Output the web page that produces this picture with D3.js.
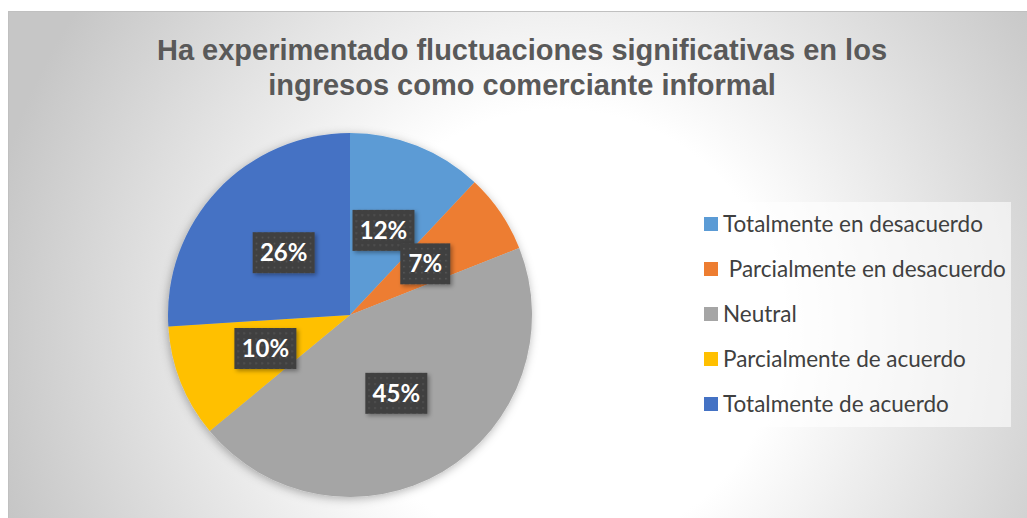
<!DOCTYPE html>
<html>
<head>
<meta charset="utf-8">
<script src="https://cdn.jsdelivr.net/npm/d3@7"></script>
<style>
  body { margin: 0; background: #fff; }
  svg { display: block; }
</style>
</head>
<body>
<div class="canvas"></div>
<script>
const categories = ['Totalmente en desacuerdo', ' Parcialmente en desacuerdo', 'Neutral', 'Parcialmente de acuerdo', 'Totalmente de acuerdo'];
const values = [12, 7, 45, 10, 26];
const colors = ['#5B9BD5', '#ED7D31', '#A5A5A5', '#FFC000', '#4472C4'];
const titleLines = ['Ha experimentado fluctuaciones significativas en los', 'ingresos como comerciante informal'];

const dims = {width: 1027, height: 518};

const svg = d3.select('.canvas')
    .append('svg')
    .attr('width', dims.width)
    .attr('height', dims.height);

const defs = svg.append('defs');

// chart area background
const bg = defs.append('radialGradient')
    .attr('id', 'bg')
    .attr('gradientUnits', 'userSpaceOnUse')
    .attr('cx', 560).attr('cy', 330).attr('r', 580);
bg.append('stop').attr('offset', '0%').attr('stop-color', '#ffffff');
bg.append('stop').attr('offset', '38%').attr('stop-color', '#ffffff');
bg.append('stop').attr('offset', '100%').attr('stop-color', '#c6c6c6');

const shadow = defs.append('filter')
    .attr('id', 'shadow')
    .attr('x', '-20%').attr('y', '-20%')
    .attr('width', '140%').attr('height', '140%');
shadow.append('feDropShadow')
    .attr('dx', -1).attr('dy', 2)
    .attr('stdDeviation', 5)
    .attr('flood-color', '#000')
    .attr('flood-opacity', 0.3);

const lblShadow = defs.append('filter')
    .attr('id', 'lblShadow')
    .attr('x', '-30%').attr('y', '-30%')
    .attr('width', '160%').attr('height', '160%');
lblShadow.append('feDropShadow')
    .attr('dx', 2).attr('dy', 2)
    .attr('stdDeviation', 2)
    .attr('flood-color', '#000')
    .attr('flood-opacity', 0.35);

const dots = defs.append('pattern')
    .attr('id', 'dots')
    .attr('patternUnits', 'userSpaceOnUse')
    .attr('width', 6).attr('height', 6);
dots.append('rect').attr('width', 6).attr('height', 6).attr('fill', '#404040');
dots.append('rect').attr('x', 2).attr('y', 2).attr('width', 1.5).attr('height', 1.5).attr('fill', '#5a5a5a');

svg.append('rect')
    .attr('x', 8.5).attr('y', 11.5)
    .attr('width', dims.width - 8).attr('height', dims.height - 11)
    .attr('fill', 'url(#bg)')
    .attr('stroke', '#c0c0c0');

// title
svg.append('g')
    .selectAll('text')
    .data(titleLines)
    .enter()
    .append('text')
    .attr('x', 522)
    .attr('y', (d, i) => 60 + i * 35)
    .attr('text-anchor', 'middle')
    .attr('font-family', 'Liberation Sans, Arial, sans-serif')
    .attr('font-weight', 'bold')
    .attr('font-size', 29)
    .attr('fill', '#595959')
    .text(d => d);

// pie
const radius = 182;
const graph = svg.append('g')
    .attr('transform', 'translate(350, 315)');

const pie = d3.pie().sort(null).value(d => d.value);
const arc = d3.arc().innerRadius(0).outerRadius(radius);

const data = categories.map((c, i) => ({name: c, value: values[i], color: colors[i]}));
const arcs = pie(data);

graph.append('g')
    .attr('filter', 'url(#shadow)')
    .selectAll('path')
    .data(arcs)
    .enter()
    .append('path')
    .attr('d', arc)
    .attr('fill', d => d.data.color);

const total = d3.sum(values);
const labels = graph.selectAll('.label')
    .data(arcs)
    .enter()
    .append('g')
    .attr('class', 'label')
    .attr('transform', d => `translate(${arc.centroid(d)})`);

labels.append('rect')
    .attr('x', d => d.data.value < 10 ? -25 : -31)
    .attr('y', -20.5)
    .attr('width', d => d.data.value < 10 ? 50 : 62)
    .attr('height', 41)
    .attr('fill', 'url(#dots)')
    .attr('filter', 'url(#lblShadow)');

labels.append('text')
    .attr('text-anchor', 'middle')
    .attr('dy', 8.5)
    .attr('font-family', 'Lato, sans-serif')
    .attr('font-weight', 'bold')
    .attr('font-size', 24)
    .attr('fill', '#fff')
    .text(d => Math.round(d.data.value / total * 100) + '%');

// legend
const legend = svg.append('g');
legend.append('rect')
    .attr('x', 691).attr('y', 202)
    .attr('width', 320).attr('height', 225)
    .attr('fill', '#ffffff')
    .attr('fill-opacity', 0.6);

const items = legend.selectAll('.item')
    .data(data)
    .enter()
    .append('g')
    .attr('class', 'item')
    .attr('transform', (d, i) => `translate(704, ${224 + i * 45})`);

items.append('rect')
    .attr('x', 0).attr('y', -7)
    .attr('width', 14).attr('height', 14)
    .attr('fill', d => d.color);

items.append('text')
    .attr('x', 19)
    .attr('dy', 7.5)
    .attr('font-family', 'Lato, sans-serif')
    .attr('font-size', 22.5)
    .attr('fill', '#404040')
    .attr('xml:space', 'preserve')
    .style('white-space', 'pre')
    .text(d => d.name);
</script>
</body>
</html>
